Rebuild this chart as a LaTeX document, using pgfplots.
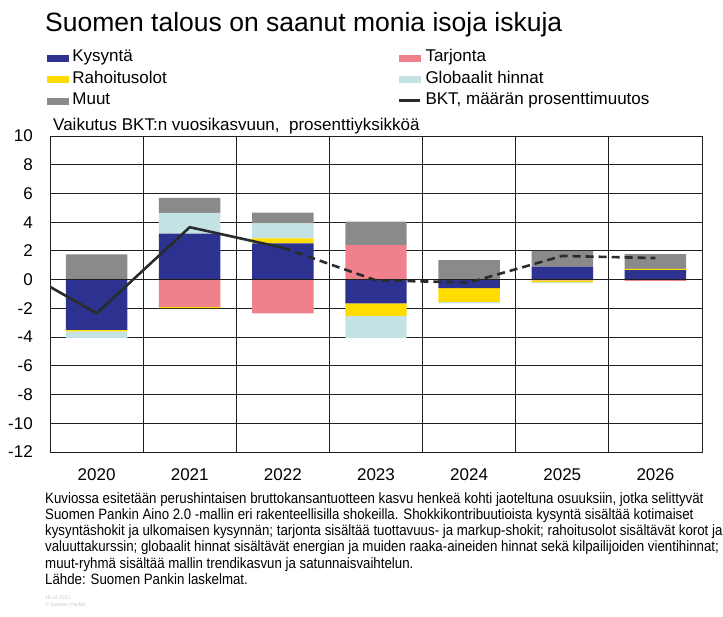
\documentclass[border=0pt]{standalone}
\usepackage{fontspec}
\setmainfont{Liberation Sans}
\newfontfamily\narrowfont{Liberation Sans}[FakeStretch=0.885]
\usepackage{pgfplots}
\pgfplotsset{compat=1.18}

\definecolor{kys}{RGB}{45,50,145}
\definecolor{tar}{RGB}{240,128,140}
\definecolor{rah}{RGB}{255,221,0}
\definecolor{glo}{RGB}{196,226,228}
\definecolor{muu}{RGB}{138,138,138}
\definecolor{bkt}{RGB}{40,44,44}
\definecolor{gridc}{RGB}{30,30,30}

\pgfplotsset{
  base/.style={
    scale only axis, width=652pt, height=316pt,
    at={(50pt,165pt)}, anchor=south west,
    xmin=-0.5, xmax=6.5, ymin=-12, ymax=10,
  },
  barleg/.style={legend image code/.code={\fill[#1] (0pt,-3pt) rectangle (21pt,3pt);}},
}

\begin{document}
\begin{tikzpicture}
\useasboundingbox (0,0) rectangle (723pt,617pt);

\begin{axis}[base,
  ybar stacked, bar width=0.66,
  ytick={-12,-10,...,10},
  xtick={0,...,6}, xticklabels={2020,2021,2022,2023,2024,2025,2026},
  minor xtick={0.5,1.5,...,5.5},
  ymajorgrids, xminorgrids,
  major grid style={gridc, line width=0.9pt},
  minor grid style={gridc, line width=0.9pt},
  axis line style={gridc, line width=0.9pt},
  major tick length=0pt, minor tick length=0pt,
  tick label style={font=\fontsize{17}{20}\selectfont},
  /pgf/number format/assume math mode=true,
  yticklabel style={anchor=east, inner sep=0pt, xshift=-17pt},
  xticklabel style={anchor=north, inner sep=0pt, yshift=-16pt},
  legend columns=2,
  legend cell align=left,
  legend style={at={(-0.0046,1.2722)}, anchor=north west, draw=none, fill=none,
    inner sep=0pt, outer sep=0pt, row sep=6pt,
    font=\fontsize{17}{20}\selectfont,
    nodes={inner sep=0pt, text height=12pt, text depth=3.5pt},
    /tikz/column 1/.style={column sep=4pt},
    /tikz/column 2/.style={column sep=231pt},
    /tikz/column 3/.style={column sep=4pt}},
]
\addlegendimage{barleg=kys}
\addlegendentry{Kysyntä}
\addlegendimage{barleg=tar}
\addlegendentry{Tarjonta}
\addlegendimage{barleg=rah}
\addlegendentry{Rahoitusolot}
\addlegendimage{barleg=glo}
\addlegendentry{Globaalit hinnat}
\addlegendimage{barleg=muu}
\addlegendentry{Muut}
\addlegendimage{legend image code/.code={\draw[bkt, line width=2.6pt] (0pt,0pt) -- (21pt,0pt);}}
\addlegendentry{BKT, määrän prosenttimuutos}

% positive contributions (negatives are stacked separately by pgfplots)
\addplot[fill=kys, draw=none, forget plot] coordinates {(0,0) (1,3.2) (2,2.53) (3,0) (4,0) (5,0.9) (6,0.66)};
\addplot[fill=tar, draw=none, forget plot] coordinates {(0,0) (1,0) (2,0) (3,2.41) (4,0.06) (5,0) (6,0)};
\addplot[fill=rah, draw=none, forget plot] coordinates {(0,0) (1,0) (2,0.34) (3,0) (4,0) (5,0) (6,0.08)};
\addplot[fill=glo, draw=none, forget plot] coordinates {(0,0) (1,1.45) (2,1.05) (3,0) (4,0) (5,0) (6,0)};
\addplot[fill=muu, draw=none, forget plot] coordinates {(0,1.75) (1,1.05) (2,0.74) (3,1.62) (4,1.3) (5,1.1) (6,1.04)};
% negative contributions
\addplot[fill=kys, draw=none, forget plot] coordinates {(0,-3.5) (1,0) (2,0) (3,-1.65) (4,-0.6) (5,0) (6,0)};
\addplot[fill=tar, draw=none, forget plot] coordinates {(0,0) (1,-1.9) (2,-2.35) (3,0) (4,0) (5,-0.05) (6,-0.08)};
\addplot[fill=rah, draw=none, forget plot] coordinates {(0,-0.1) (1,-0.08) (2,0) (3,-0.88) (4,-0.95) (5,-0.12) (6,0)};
\addplot[fill=glo, draw=none, forget plot] coordinates {(0,-0.45) (1,0) (2,0) (3,-1.52) (4,-0.1) (5,-0.08) (6,0)};
\end{axis}

\begin{axis}[base,
  axis line style={draw=none},
  xtick=\empty, ytick={0}, yticklabels={},
  ymajorgrids, major grid style={gridc, line width=0.9pt},
  major tick length=0pt,
]
\addplot[bkt, line width=2.6pt, line join=round] coordinates {(-1,1.35) (0,-2.35) (1,3.65) (2,2.22)};
\addplot[bkt, line width=2.6pt, dash pattern=on 8pt off 5pt] coordinates {(2,2.22) (3,-0.05) (4,-0.2) (5,1.65) (6,1.5)};
\end{axis}

\node[anchor=base west, inner sep=0pt, font=\fontsize{26.5}{30}\selectfont] at (45pt,585pt)
  {Suomen talous on saanut monia isoja iskuja};
\node[anchor=base west, inner sep=0pt, font=\fontsize{17}{20}\selectfont] at (53pt,486pt)
  {Vaikutus BKT:n vuosikasvuun,\ \ prosenttiyksikköä};
\node[anchor=north west, align=left, inner sep=0pt, font=\narrowfont\fontsize{15}{16.3}\selectfont] at (45pt,125pt)
  {Kuviossa esitetään perushintaisen bruttokansantuotteen kasvu henkeä kohti jaoteltuna osuuksiin, jotka selittyvät\\
   Suomen Pankin Aino 2.0 -mallin eri rakenteellisilla shokeilla. Shokkikontribuutioista kysyntä sisältää kotimaiset\\
   kysyntäshokit ja ulkomaisen kysynnän; tarjonta sisältää tuottavuus- ja markup-shokit; rahoitusolot sisältävät korot ja\\
   valuuttakurssin; globaalit hinnat sisältävät energian ja muiden raaka-aineiden hinnat sekä kilpailijoiden vientihinnat;\\
   muut-ryhmä sisältää mallin trendikasvun ja satunnaisvaihtelun.\\
   Lähde: Suomen Pankin laskelmat.};
\node[anchor=north west, align=left, inner sep=0pt, text=gray!45, font=\fontsize{5}{6.5}\selectfont] at (45pt,21pt)
  {19.12.2023\\© Suomen Pankki};
\end{tikzpicture}
\end{document}
